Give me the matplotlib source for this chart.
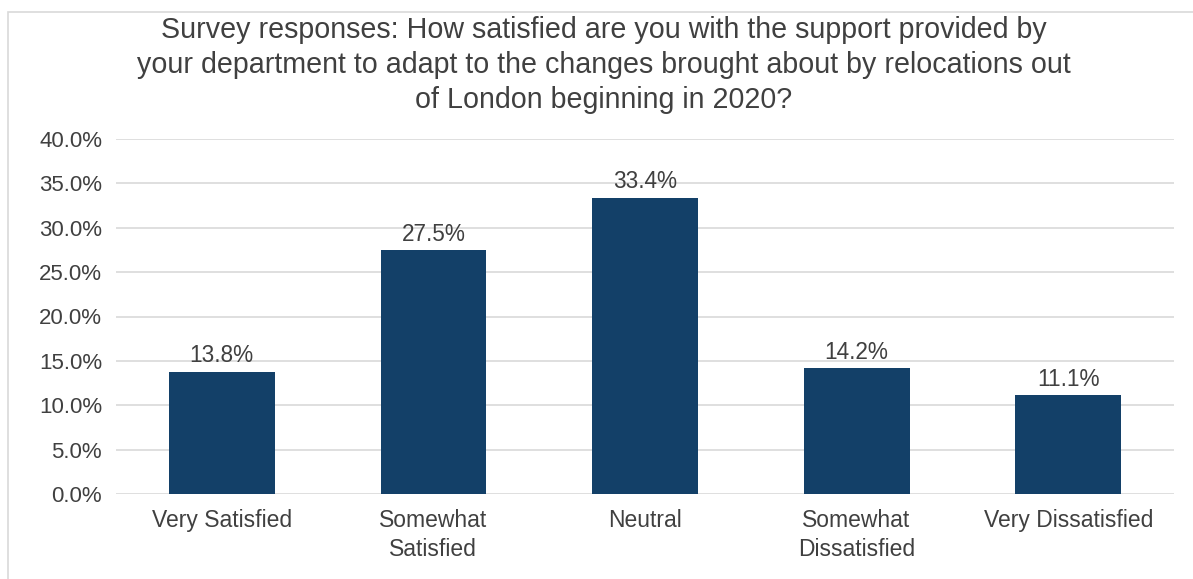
import matplotlib
matplotlib.use("Agg")
import matplotlib.pyplot as plt
from matplotlib.patches import Rectangle
from matplotlib.ticker import MultipleLocator, FuncFormatter

categories = ["Very Satisfied", "Somewhat\nSatisfied", "Neutral",
              "Somewhat\nDissatisfied", "Very Dissatisfied"]
shares = [13.8, 27.5, 33.4, 14.2, 11.1]
title_lines = [
    "Survey responses: How satisfied are you with the support provided by",
    "your department to adapt to the changes brought about by relocations out",
    "of London beginning in 2020?",
]

plt.rcParams["font.family"] = ["Liberation Sans", "DejaVu Sans"]
TEXT = "#404040"
BAR = "#134068"
GRID = "#d9d9d9"

W, H = 1193, 579
fig = plt.figure(figsize=(W / 100, H / 100), dpi=100)

# light frame around the chart area
fig.patches.append(Rectangle((8 / W, -0.05), 1.2, 1 - 12 / H + 0.05,
                             transform=fig.transFigure, fill=False,
                             edgecolor=GRID, linewidth=1.2, clip_on=False))

ax = fig.add_axes([116 / W, 1 - 494 / H, (1174 - 116) / W, (494 - 139) / H])
x = list(range(len(categories)))
bars = ax.bar(x, shares, width=0.5, color=BAR, zorder=3)

ax.set_xlim(-0.5, len(categories) - 0.5)
ax.set_ylim(0, 40)
ax.yaxis.set_major_locator(MultipleLocator(5))
ax.yaxis.set_major_formatter(FuncFormatter(lambda v, _: f"{v:.1f}%"))
ax.grid(axis="y", color=GRID, linewidth=1.2, zorder=0)
for s in ax.spines.values():
    s.set_visible(False)
ax.tick_params(length=0, labelcolor=TEXT)
ax.tick_params(axis="y", pad=10, labelsize=16)
ax.tick_params(axis="x", pad=11, labelsize=16.5)
ax.set_xticks(x)
ax.set_xticklabels(categories, linespacing=1.32)

for rect, v in zip(bars, shares):
    ax.annotate(f"{v:.1f}%", (rect.get_x() + rect.get_width() / 2, v),
                xytext=(0, 3), textcoords="offset points",
                ha="center", va="bottom", fontsize=16.3, color=TEXT)

for i, line in enumerate(title_lines):
    fig.text(604 / W, 1 - (30 + 35 * i) / H, line, ha="center", va="center",
             fontsize=20.6, color=TEXT)

fig.savefig("out.png", dpi=100, facecolor="white")
